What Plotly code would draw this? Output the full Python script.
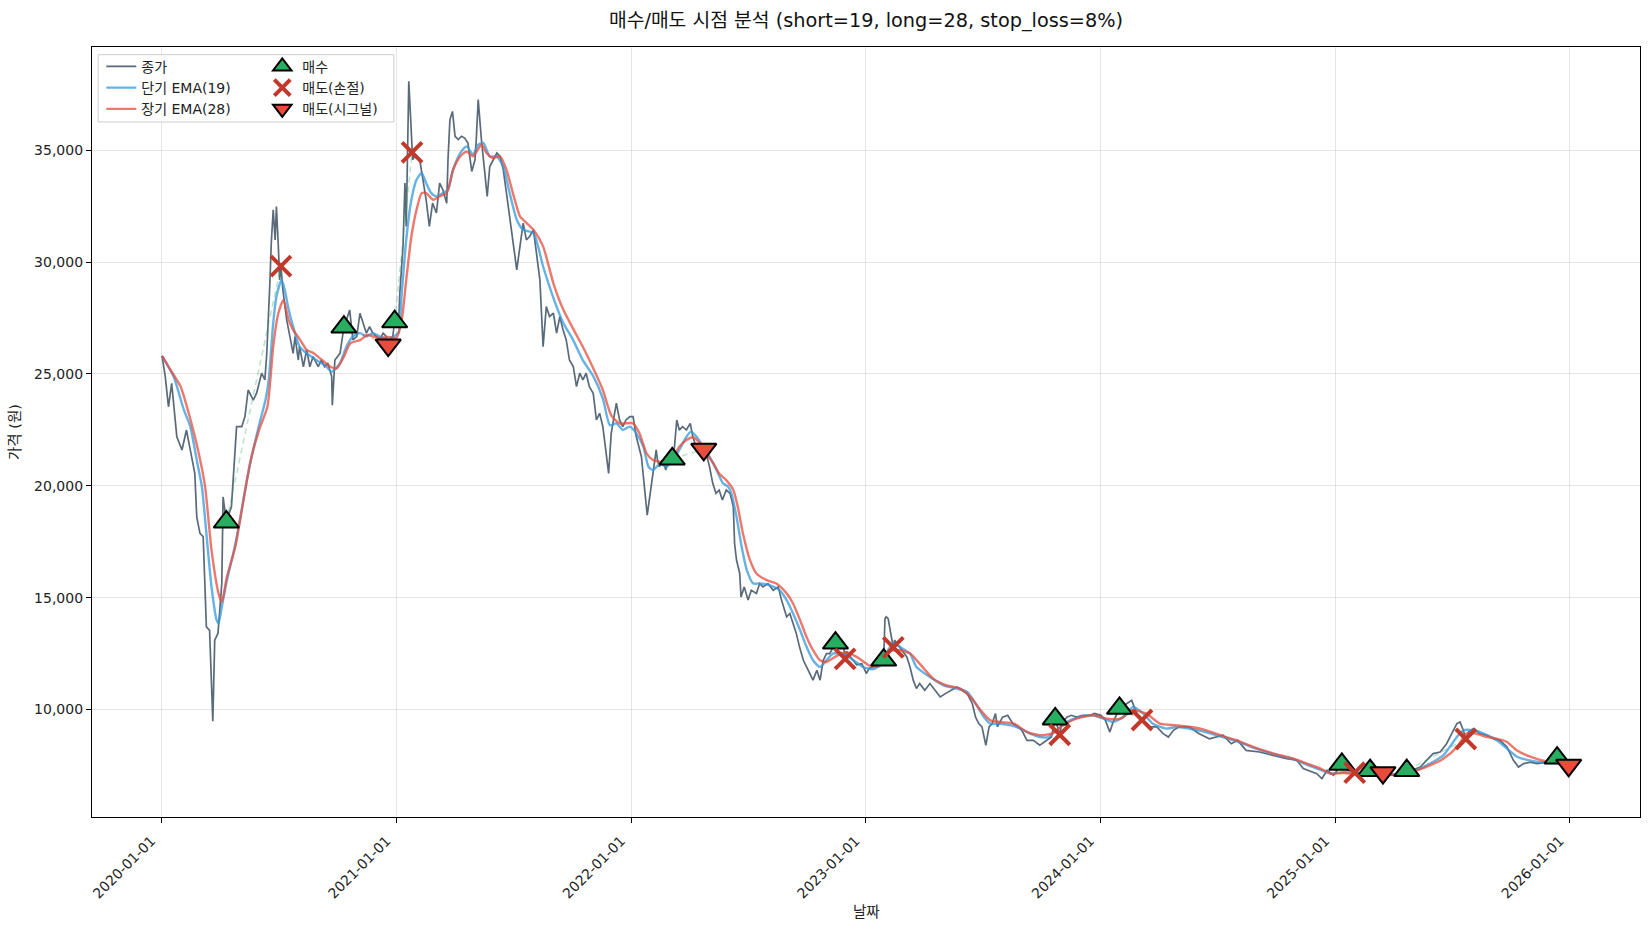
import plotly.graph_objects as go

# ---------------- data ----------------
close_dates = [
    "2020-01-02","2020-01-07","2020-01-12","2020-01-17","2020-01-25","2020-02-02","2020-02-09","2020-02-14",
    "2020-02-22","2020-02-25","2020-03-01","2020-03-06","2020-03-11","2020-03-16","2020-03-19","2020-03-21",
    "2020-03-24","2020-03-29","2020-04-04","2020-04-06","2020-04-11","2020-04-19","2020-04-27","2020-05-05",
    "2020-05-10","2020-05-15","2020-05-23","2020-05-28","2020-06-05","2020-06-10","2020-06-13","2020-06-15",
    "2020-06-18","2020-06-20","2020-06-23","2020-06-26","2020-06-28","2020-07-01","2020-07-03","2020-07-05",
    "2020-07-08","2020-07-14","2020-07-19","2020-07-24","2020-07-27","2020-08-01","2020-08-03","2020-08-09",
    "2020-08-14","2020-08-19","2020-08-24","2020-09-01","2020-09-06","2020-09-11","2020-09-16","2020-09-22",
    "2020-09-23","2020-09-27","2020-10-05","2020-10-10","2020-10-11","2020-10-15","2020-10-20","2020-10-25",
    "2020-10-31","2020-11-05","2020-11-10","2020-11-15","2020-11-20","2020-11-25","2020-12-01","2020-12-06",
    "2020-12-11","2020-12-16","2020-12-19","2020-12-23","2020-12-26","2020-12-29","2021-01-04","2021-01-06",
    "2021-01-11","2021-01-14","2021-01-16","2021-01-20","2021-01-24","2021-01-25","2021-01-26","2021-01-29",
    "2021-02-06","2021-02-11","2021-02-16","2021-02-21","2021-02-26","2021-03-04","2021-03-09","2021-03-14",
    "2021-03-20","2021-03-22","2021-03-25","2021-03-29","2021-04-02","2021-04-07","2021-04-12","2021-04-17",
    "2021-04-22","2021-04-28","2021-05-03","2021-05-05","2021-05-08","2021-05-13","2021-05-18","2021-05-22",
    "2021-05-26","2021-05-31","2021-06-06","2021-06-11","2021-06-16","2021-06-21","2021-06-26","2021-07-01",
    "2021-07-07","2021-07-12","2021-07-17","2021-07-22","2021-07-27","2021-08-02","2021-08-07","2021-08-12",
    "2021-08-17","2021-08-22","2021-08-27","2021-09-02","2021-09-07","2021-09-12","2021-09-17","2021-09-22",
    "2021-09-27","2021-10-03","2021-10-08","2021-10-13","2021-10-18","2021-10-23","2021-10-28","2021-11-03",
    "2021-11-08","2021-11-13","2021-11-18","2021-11-23","2021-11-27","2021-12-01","2021-12-06","2021-12-09",
    "2021-12-14","2021-12-19","2021-12-24","2021-12-30","2022-01-04","2022-01-09","2022-01-17","2022-01-22",
    "2022-01-26","2022-01-30","2022-02-04","2022-02-09","2022-02-11","2022-02-14","2022-02-19","2022-02-24",
    "2022-03-01","2022-03-06","2022-03-09","2022-03-13","2022-03-17","2022-03-22","2022-03-28","2022-04-03",
    "2022-04-07","2022-04-12","2022-04-18","2022-04-24","2022-04-28","2022-05-03","2022-05-08","2022-05-13",
    "2022-05-18","2022-05-23","2022-05-29","2022-06-04","2022-06-09","2022-06-11","2022-06-14","2022-06-19",
    "2022-06-21","2022-06-26","2022-07-02","2022-07-07","2022-07-15","2022-07-20","2022-07-25","2022-08-02",
    "2022-08-10","2022-08-18","2022-08-23","2022-08-31","2022-09-05","2022-09-10","2022-09-15","2022-09-20",
    "2022-09-26","2022-10-01","2022-10-06","2022-10-11","2022-10-17","2022-10-22","2022-10-27","2022-11-01",
    "2022-11-06","2022-11-15","2022-11-20","2022-11-27","2022-11-30","2022-12-02","2022-12-07","2022-12-18",
    "2022-12-26","2023-01-02","2023-01-07","2023-01-12","2023-01-18","2023-01-23","2023-01-29","2023-01-31",
    "2023-02-02","2023-02-05","2023-02-10","2023-02-13","2023-02-15","2023-02-23","2023-03-06","2023-03-11",
    "2023-03-16","2023-03-21","2023-03-26","2023-04-03","2023-04-11","2023-04-19","2023-04-27","2023-05-05",
    "2023-05-13","2023-05-23","2023-05-31","2023-06-08","2023-06-16","2023-06-21","2023-06-26","2023-07-01",
    "2023-07-07","2023-07-12","2023-07-17","2023-07-22","2023-07-25","2023-08-02","2023-08-10","2023-08-18",
    "2023-08-26","2023-09-01","2023-09-09","2023-09-19","2023-09-29","2023-10-10","2023-10-17","2023-10-23",
    "2023-10-30","2023-11-02","2023-11-10","2023-11-17","2023-11-25","2023-12-05","2023-12-16","2023-12-23",
    "2024-01-02","2024-01-09","2024-01-16","2024-01-21","2024-01-31","2024-02-11","2024-02-19","2024-02-27",
    "2024-03-06","2024-03-18","2024-03-29","2024-04-08","2024-04-16","2024-04-24","2024-05-02","2024-05-19",
    "2024-06-03","2024-06-19","2024-07-10","2024-07-23","2024-08-02","2024-08-15","2024-09-05","2024-09-26",
    "2024-10-17","2024-11-02","2024-11-12","2024-12-03","2024-12-11","2024-12-19","2024-12-29","2025-01-11",
    "2025-01-13","2025-01-29","2025-01-31","2025-02-13","2025-02-24","2025-03-03","2025-03-16","2025-04-02",
    "2025-04-17","2025-04-22","2025-04-30","2025-05-13","2025-05-23","2025-06-02","2025-06-13","2025-06-23",
    "2025-07-01","2025-07-09","2025-07-14","2025-07-19","2025-07-23","2025-07-27","2025-08-04","2025-08-14",
    "2025-08-25","2025-09-04","2025-09-14","2025-09-25","2025-10-05","2025-10-13","2025-10-21","2025-10-31",
    "2025-11-11","2025-11-26","2025-12-12","2025-12-30",
]
close_values = [
    25800,24880,23530,24580,22190,21600,22490,21750,
    20550,18610,17870,17720,13690,13540,10400,9480,
    13100,13400,15630,19500,18400,19060,22640,22640,
    23090,24280,23830,24130,25030,24730,25920,27110,
    29200,30850,32330,30990,32480,30690,29200,29820,
    28760,27410,26670,25920,26670,25620,26220,25320,
    26070,25320,25770,25320,25620,25320,25480,24880,
    23600,25620,25920,26820,27090,27410,27860,26520,
    26670,27710,27270,26820,27110,26820,26670,26520,
    26820,26670,26290,26520,26670,27330,27100,28610,
    30690,33530,31590,38080,35320,34900,34570,34720,
    34570,33680,32780,31590,32630,32190,33530,33230,
    32630,34570,36360,36730,35620,35470,35620,35540,
    35320,34050,34570,35470,37260,35470,34130,32930,
    34270,34570,34870,34720,34130,33080,32000,30850,
    29650,30700,31740,30990,31140,31440,30400,29200,
    26220,28010,27560,27710,26820,27560,26970,26520,
    25620,25320,24430,25030,24730,25030,24430,24130,
    22940,23240,22640,21600,20550,22340,23240,23690,
    22940,22640,22940,23090,23090,22200,21300,19960,
    18690,19510,20550,21600,21150,20850,21150,20700,
    21300,21200,21600,22940,22490,22640,22490,22790,
    22190,21750,21900,21630,21450,20850,20110,19660,
    19810,19360,19810,19660,19060,17420,16680,16080,
    15030,15480,14890,15330,15190,15630,15480,15630,
    15330,15480,14890,14140,14290,13840,13400,12800,
    12200,11900,11610,11310,11750,11310,12200,12500,
    12500,12970,12800,12950,12300,12600,12400,12000,
    12050,11610,11850,11900,12200,12100,12210,14060,
    14140,14060,13240,12780,13100,12800,12350,11900,
    11310,10940,11160,10860,11160,10860,10560,10710,
    10860,11010,10860,10710,10260,9660,9370,9220,
    8400,9220,9370,9820,9220,9660,9740,9370,
    9220,9070,8620,8620,8400,8620,8770,9580,
    8870,9370,9660,9740,9660,9740,9740,9820,
    9740,9520,8990,9440,10050,10260,10410,9820,
    9530,9220,9220,8920,8770,9070,9220,9220,
    8920,8690,8850,8470,8620,8175,8100,7950,
    7800,7730,7360,7130,6910,7280,7060,7550,
    7360,7210,7175,7130,7270,7210,7175,7060,
    7130,7270,7280,7430,7730,8030,8100,8470,
    8920,9370,9440,9070,8680,8990,9150,8920,
    8850,8690,8620,8320,7730,7430,7580,7650,
    7580,7650,7830,7500,
]

ema_short_dates = [
    "2020-01-02","2020-01-20","2020-02-05","2020-02-15","2020-02-25","2020-03-04","2020-03-11","2020-03-19",
    "2020-03-27","2020-03-30","2020-04-04","2020-04-12","2020-04-23","2020-05-03","2020-05-13","2020-05-24",
    "2020-06-03","2020-06-11","2020-06-16","2020-06-23","2020-06-28","2020-07-06","2020-07-11","2020-07-16",
    "2020-07-24","2020-08-03","2020-08-14","2020-08-29","2020-09-14","2020-09-22","2020-10-05","2020-10-15",
    "2020-10-25","2020-11-05","2020-11-15","2020-11-25","2020-12-06","2020-12-19","2020-12-29","2021-01-04",
    "2021-01-09","2021-01-16","2021-01-24","2021-02-01","2021-02-09","2021-02-16","2021-02-24","2021-03-04",
    "2021-03-14","2021-03-22","2021-03-30","2021-04-10","2021-04-20","2021-04-30","2021-05-08","2021-05-16",
    "2021-05-26","2021-06-06","2021-06-16","2021-06-26","2021-07-07","2021-07-17","2021-08-02","2021-08-17",
    "2021-09-02","2021-09-17","2021-10-03","2021-10-18","2021-11-03","2021-11-18","2021-11-29","2021-12-09",
    "2021-12-19","2021-12-30","2022-01-09","2022-01-20","2022-01-28","2022-02-04","2022-02-15","2022-02-25",
    "2022-03-07","2022-03-17","2022-03-28","2022-04-04","2022-04-13","2022-04-23","2022-05-03","2022-05-14",
    "2022-05-24","2022-06-01","2022-06-06","2022-06-14","2022-06-22","2022-06-30","2022-07-10","2022-07-20",
    "2022-08-04","2022-08-20","2022-08-31","2022-09-10","2022-09-21","2022-10-01","2022-10-11","2022-10-22",
    "2022-11-01","2022-11-11","2022-11-27","2022-12-13","2022-12-28","2023-01-12","2023-01-28","2023-02-05",
    "2023-02-13","2023-02-23","2023-03-11","2023-03-21","2023-04-11","2023-05-02","2023-05-23","2023-06-08",
    "2023-06-21","2023-07-04","2023-07-14","2023-07-30","2023-08-15","2023-08-30","2023-09-14","2023-09-29",
    "2023-10-12","2023-10-25","2023-11-10","2023-11-30","2023-12-21","2024-01-06","2024-01-21","2024-02-06",
    "2024-02-21","2024-03-08","2024-03-23","2024-04-13","2024-04-29","2024-06-05","2024-07-06","2024-08-01",
    "2024-08-27","2024-09-27","2024-10-28","2024-11-18","2024-12-09","2024-12-25","2025-01-13","2025-02-13",
    "2025-03-17","2025-04-17","2025-05-08","2025-05-28","2025-06-18","2025-07-09","2025-07-19","2025-08-04",
    "2025-08-25","2025-09-09","2025-09-25","2025-10-10","2025-10-26","2025-11-26","2025-12-30",
]
ema_short_values = [
    25800,24880,23390,22640,21150,19960,17870,15480,
    13990,13840,14590,15780,17120,18610,20250,21750,
    22940,23830,24730,27270,28460,29200,28760,28010,
    27110,26220,25920,25620,25320,25100,25480,26220,
    26670,26820,26670,26820,26670,26550,26700,26850,
    28610,30990,32780,33680,33980,33530,33080,32930,
    33080,33230,34130,34870,35170,34800,35240,35320,
    34720,34720,34270,33080,31890,31440,31290,29800,
    28400,27300,26500,25600,24900,23900,22700,22790,
    22500,22640,22340,21750,20850,20700,20990,20850,
    21150,21600,22190,22420,22190,21745,21300,20700,
    20110,19955,19660,18610,17270,16230,15630,15630,
    15560,15330,14890,14290,13540,12800,12200,11900,
    12200,12500,12500,12200,11900,11800,12050,12650,
    12950,12800,12500,11900,11450,11080,10935,10780,
    10260,9665,9365,9365,9290,9145,8920,8770,
    8770,9070,9440,9665,9740,9590,9440,9665,
    10110,9815,9365,9145,9220,9050,8800,8580,
    8280,8000,7770,7530,7300,7130,7200,7150,
    7100,7140,7300,7580,7950,8770,9070,9070,
    8850,8620,8250,7900,7750,7620,7600,
]

ema_long_dates = [
    "2020-01-02","2020-01-15","2020-01-31","2020-02-14","2020-02-27","2020-03-09","2020-03-19","2020-03-30",
    "2020-04-04","2020-04-12","2020-04-25","2020-05-06","2020-05-19","2020-06-01","2020-06-14","2020-06-19",
    "2020-06-23","2020-07-01","2020-07-09","2020-07-17","2020-07-24","2020-08-04","2020-08-14","2020-08-25",
    "2020-09-07","2020-09-20","2020-09-30","2020-10-11","2020-10-21","2020-11-06","2020-11-16","2020-11-26",
    "2020-12-07","2020-12-19","2021-01-01","2021-01-09","2021-01-16","2021-01-24","2021-02-01","2021-02-09",
    "2021-02-16","2021-02-27","2021-03-09","2021-03-20","2021-03-30","2021-04-10","2021-04-20","2021-04-30",
    "2021-05-13","2021-05-21","2021-05-31","2021-06-11","2021-06-21","2021-07-01","2021-07-12","2021-07-17",
    "2021-08-02","2021-08-17","2021-09-02","2021-09-17","2021-10-03","2021-10-18","2021-11-03","2021-11-18",
    "2021-12-01","2021-12-14","2022-01-04","2022-01-14","2022-01-25","2022-02-04","2022-02-14","2022-02-25",
    "2022-03-07","2022-03-17","2022-03-28","2022-04-07","2022-04-18","2022-04-28","2022-05-09","2022-05-18",
    "2022-05-29","2022-06-09","2022-06-16","2022-06-24","2022-07-05","2022-07-15","2022-07-31","2022-08-15",
    "2022-08-31","2022-09-10","2022-09-21","2022-10-01","2022-10-11","2022-10-22","2022-11-01","2022-11-17",
    "2022-12-02","2022-12-18","2023-01-02","2023-01-12","2023-01-28","2023-02-08","2023-02-23","2023-03-11",
    "2023-03-26","2023-04-16","2023-05-07","2023-05-28","2023-06-13","2023-06-29","2023-07-14","2023-07-30",
    "2023-08-20","2023-09-09","2023-09-29","2023-10-17","2023-11-04","2023-11-25","2023-12-21","2024-01-11",
    "2024-02-01","2024-02-21","2024-03-13","2024-04-03","2024-04-29","2024-06-05","2024-07-06","2024-08-01",
    "2024-08-27","2024-09-27","2024-10-28","2024-11-18","2024-12-09","2024-12-25","2025-01-13","2025-02-13",
    "2025-03-17","2025-04-17","2025-05-08","2025-05-28","2025-06-18","2025-07-09","2025-07-24","2025-08-04",
    "2025-08-25","2025-09-09","2025-09-25","2025-10-10","2025-10-26","2025-11-26","2025-12-30",
]
ema_long_values = [
    25800,25180,24430,23090,21600,19960,17120,15180,
    14810,15930,17270,19060,21150,22490,23530,24880,
    26220,27710,28310,27410,26970,26520,26070,25920,
    25620,25320,25250,25770,26370,26520,26740,26670,
    26600,26650,26620,27410,29200,31140,32330,33080,
    33080,32780,32930,33080,34130,34720,34940,34720,
    35240,34870,34650,34720,34130,33080,32040,31890,
    31440,30700,29050,27900,27000,26200,25250,24280,
    23150,22790,22790,22340,21450,21150,21080,21070,
    21300,21745,22045,22165,21895,21450,21000,20550,
    20250,19810,19060,17870,16675,16080,15780,15630,
    15190,14740,13990,13240,12650,12200,12125,12400,
    12550,12350,12050,11900,12050,12600,12650,12500,
    12050,11380,11080,10935,10560,9965,9515,9440,
    9365,8995,8850,8920,9290,9590,9740,9590,
    9590,9965,9815,9365,9290,9145,8850,8620,
    8320,8030,7800,7580,7360,7130,7160,7080,
    7060,7130,7280,7500,7800,8320,8920,8950,
    8770,8700,8550,8175,7950,7680,7600,
]

buy_dates = ["2020-04-11","2020-10-11","2020-12-29","2022-03-06","2022-11-15","2023-01-29",
             "2023-10-23","2024-01-31","2025-01-11","2025-02-24","2025-04-22","2025-12-12"]
buy_prices = [18380,27090,27330,21200,12970,12210,9580,10050,7550,7270,7270,7830]

stop_dates = ["2020-07-05","2021-01-25","2022-11-30","2023-02-13","2023-10-30","2024-03-06",
              "2025-01-31","2025-07-23"]
stop_prices = [29820,34900,12260,12780,8870,9530,7175,8680]

signal_dates = ["2020-12-19","2022-04-24","2025-03-16","2025-12-30"]
signal_prices = [26290,21630,7175,7505]

year_ticks = ["2020-01-01","2021-01-01","2022-01-01","2023-01-01","2024-01-01","2025-01-01","2026-01-01"]
price_ticks = [10000,15000,20000,25000,30000,35000]

# ---------------- figure ----------------
FONT = "DejaVu Sans, Noto Sans CJK KR"
fig = go.Figure()

fig.add_trace(go.Scatter(x=close_dates, y=close_values, mode="lines", name="종가",
                         line=dict(color="rgba(52,73,94,0.82)", width=1.7), legend="legend"))
fig.add_trace(go.Scatter(x=ema_short_dates, y=ema_short_values, mode="lines", name="단기 EMA(19)",
                         line=dict(color="rgba(52,152,219,0.75)", width=2.4, shape="spline", smoothing=0.6),
                         legend="legend"))
fig.add_trace(go.Scatter(x=ema_long_dates, y=ema_long_values, mode="lines", name="장기 EMA(28)",
                         line=dict(color="rgba(231,76,60,0.75)", width=2.4, shape="spline", smoothing=0.6),
                         legend="legend"))

# trade connection lines (buy -> following sell)
sells = sorted(list(zip(stop_dates, stop_prices)) + list(zip(signal_dates, signal_prices)))
win_x, win_y, loss_x, loss_y = [], [], [], []
for (bd, bp), (sd, sp) in zip(zip(buy_dates, buy_prices), sells):
    if sp > bp:
        win_x += [bd, sd, None]; win_y += [bp, sp, None]
    else:
        loss_x += [bd, sd, None]; loss_y += [bp, sp, None]
fig.add_trace(go.Scatter(x=win_x, y=win_y, mode="lines", showlegend=False, hoverinfo="skip",
                         line=dict(color="rgba(39,174,96,0.32)", width=1.6, dash="6px,4px")))
fig.add_trace(go.Scatter(x=loss_x, y=loss_y, mode="lines", showlegend=False, hoverinfo="skip",
                         line=dict(color="rgba(231,76,60,0.32)", width=1.6, dash="6px,4px")))

fig.add_trace(go.Scatter(x=buy_dates, y=buy_prices, mode="markers", name="매수", legend="legend2",
                         marker=dict(symbol="triangle-up", size=22, color="#27ae60",
                                     line=dict(color="black", width=2))))
fig.add_trace(go.Scatter(x=stop_dates, y=stop_prices, mode="markers", name="매도(손절)", legend="legend2",
                         marker=dict(symbol="x-thin", size=20, color="#c0392b",
                                     line=dict(color="#c0392b", width=4))))
fig.add_trace(go.Scatter(x=signal_dates, y=signal_prices, mode="markers", name="매도(시그널)", legend="legend2",
                         marker=dict(symbol="triangle-down", size=22, color="#e74c3c",
                                     line=dict(color="black", width=2))))

axis_common = dict(showline=True, linecolor="black", linewidth=1.2, mirror=True,
                   ticks="outside", ticklen=5, tickcolor="black", tickwidth=1.2,
                   showgrid=True, gridcolor="rgba(0,0,0,0.1)", gridwidth=1, zeroline=False,
                   tickfont=dict(family=FONT, size=14, color="#222"))

fig.update_layout(
    width=1650, height=930,
    paper_bgcolor="white", plot_bgcolor="white",
    margin=dict(l=92, r=10, t=47, b=113),
    font=dict(family=FONT, color="#222"),
    title=dict(text="매수/매도 시점 분석 (short=19, long=28, stop_loss=8%)",
               x=0.5, xref="paper", y=1 - 20 / 930, yanchor="middle",
               font=dict(family=FONT, size=19.3, color="#111")),
    xaxis=dict(axis_common, range=["2019-09-15", "2026-04-20"], tickvals=year_ticks,
               ticktext=year_ticks, tickangle=-45, ticklabelshift=-10, ticklabelstandoff=4),
    yaxis=dict(axis_common, range=[5195, 39610], tickvals=price_ticks, tickformat=","),
    showlegend=True,
    legend=dict(x=0.006, y=0.995, xanchor="left", yanchor="top", bgcolor="rgba(0,0,0,0)",
                font=dict(family=FONT, size=14), itemwidth=30, tracegroupgap=0),
    legend2=dict(x=0.110, y=0.995, xanchor="left", yanchor="top", bgcolor="rgba(0,0,0,0)",
                 font=dict(family=FONT, size=14), itemwidth=30, tracegroupgap=0),
    shapes=[dict(type="rect", xref="paper", yref="paper", x0=0.004, x1=0.195, y0=0.9026, y1=0.990,
                 line=dict(color="#cccccc", width=1), fillcolor="rgba(255,255,255,0.85)", layer="above")],
    annotations=[
        dict(text="날짜", xref="paper", yref="paper", x=0.5, y=(817 - 912) / 770, showarrow=False,
             font=dict(family=FONT, size=14.5, color="#222"), yanchor="middle"),
        dict(text="가격 (원)", xref="paper", yref="paper", x=(15 - 92) / 1548, y=0.5, showarrow=False,
             textangle=-90, font=dict(family=FONT, size=14.5, color="#222"), xanchor="center"),
    ],
)

fig.write_html("out.html", config={"displayModeBar": False},
               post_script="document.body.style.margin='0';document.body.style.overflow='hidden';")
